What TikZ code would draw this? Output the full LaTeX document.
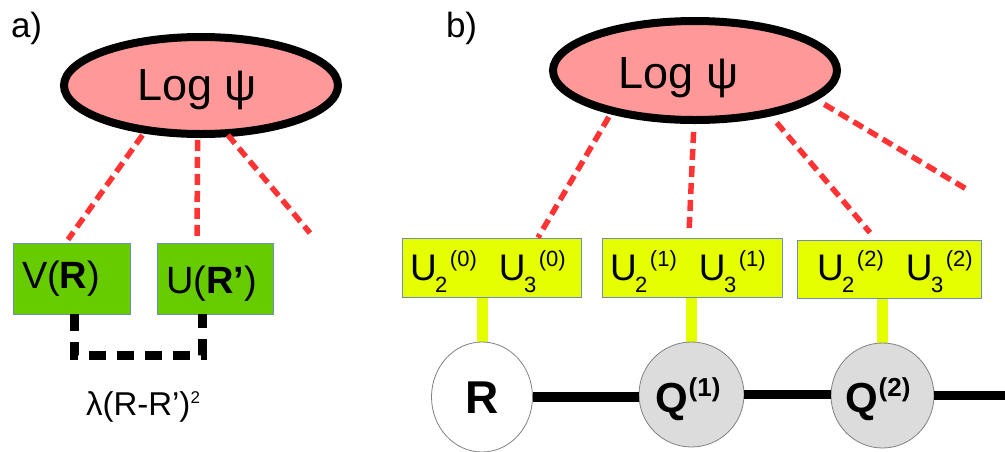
\documentclass[tikz,border=0pt]{standalone}
\usepackage{fontspec}
\setmainfont{Liberation Sans}
\usetikzlibrary{shapes.geometric,calc,backgrounds}
\definecolor{pinkfill}{RGB}{255,153,153}
\definecolor{reddash}{RGB}{255,51,51}
\definecolor{greenfill}{RGB}{102,204,0}
\definecolor{yellowfill}{RGB}{230,255,0}
\definecolor{boxborder}{RGB}{110,140,190}
\definecolor{circgray}{RGB}{220,220,220}
\definecolor{circborder}{RGB}{128,128,128}
\newcommand\Uterm[2]{U\kern-1.5pt\raisebox{-12pt}{\fontsize{22}{22}\selectfont #1}\kern2.5pt\raisebox{14pt}{\fontsize{22}{22}\selectfont(#2)}}
\begin{document}
\begin{tikzpicture}[x=1pt,y=-1pt,
  logell/.style={ellipse,draw=black,line width=8pt,fill=pinkfill,inner sep=0pt,outer sep=0pt,minimum width=274pt,minimum height=97pt},
  txt/.style={inner sep=0pt,outer sep=0pt,anchor=base},
  redline/.style={draw=reddash,line width=5.5pt,dash pattern=on 11pt off 6pt},
  greenbox/.style={draw=boxborder,line width=0.8pt,fill=greenfill,inner sep=0pt,minimum height=71pt},
  ybox/.style={draw=boxborder,line width=0.8pt,fill=yellowfill,inner sep=0pt,minimum height=59pt},
  blackdash/.style={draw=black,line width=9pt,dash pattern=on 17pt off 11pt,line join=miter},
  wcirc/.style={ellipse,draw=circborder,line width=0.8pt,fill=white,inner sep=0pt},
  gcirc/.style={ellipse,draw=circborder,line width=0.8pt,fill=circgray,inner sep=0pt},
  chainline/.style={draw=black,line width=9.5pt},
  ylink/.style={draw=yellowfill,line width=11pt},
]
\useasboundingbox (0,0) rectangle (1005,451);
% panel labels
\node[txt,anchor=base west] (labA) at (11,37) {\fontsize{35}{37}\selectfont a)};
\node[txt,anchor=base west] (labB) at (446,37) {\fontsize{35}{37}\selectfont b)};
% ---------- panel a ----------
\node[logell] (ellA) at (201,85.5) {};
\node[txt] (logA) at (197,100) {\fontsize{45}{48}\selectfont Log ψ};
\node[greenbox,minimum width=117pt] (vbox) at (71.5,278.5) {};
\node[greenbox,minimum width=116pt] (ubox) at (215,278.5) {};
\node[txt,anchor=base west] (vtxt) at (22,288) {\fontsize{38}{40}\selectfont V(\textbf{R})};
\node[txt,anchor=base west] (utxt) at (166,293) {\fontsize{38}{40}\selectfont U(\textbf{R’})};
\coordinate (a3end) at (310,233);
\draw[redline,shorten <=6.3pt] (ellA.-141.3) -- ([xshift=-3.5pt,yshift=3pt]vbox.north);
\draw[redline,shorten <=6pt] (ellA.-94.7) -- ([xshift=-18pt,yshift=5pt]ubox.north);
\draw[redline,shorten <=2.4pt] (ellA.-62.9) -- (a3end);
\draw[blackdash] ([xshift=2.5pt]vbox.south) -- ++(0,41) -| ([xshift=-13pt]ubox.south);
\node[txt] (lam) at (143,415) {\fontsize{33}{35}\selectfont λ(R-R’)\raisebox{12pt}{\fontsize{17}{17}\selectfont 2}};
% ---------- panel b ----------
\node[logell,minimum width=284pt,minimum height=99pt] (ellB) at (695,70.5) {};
\node[txt] (logB) at (678.5,88) {\fontsize{45}{48}\selectfont Log ψ};
\node[ybox,minimum width=179pt] (U0) at (491.5,267.5) {};
\node[ybox,minimum width=180pt] (U1) at (692,267.5) {};
\node[ybox,minimum width=184pt,minimum height=58pt] (U2) at (889,269) {};
\node[txt,anchor=base west] (u0t) at (410,280) {\fontsize{37}{40}\selectfont\Uterm{2}{0}\hspace{22pt}\Uterm{3}{0}};
\node[txt,anchor=base west] (u1t) at (610,280) {\fontsize{37}{40}\selectfont\Uterm{2}{1}\hspace{22pt}\Uterm{3}{1}};
\node[txt,anchor=base west] (u2t) at (817,280) {\fontsize{37}{40}\selectfont\Uterm{2}{2}\hspace{22pt}\Uterm{3}{2}};
\coordinate (b4end) at (968,190);
\draw[redline,shorten <=7.3pt] (ellB.-154) -- ([xshift=46.5pt]U0.north);
\draw[redline,shorten <=12pt] (ellB.-91.7) -- ([xshift=-3pt,yshift=5pt]U1.north);
\draw[redline,shorten <=12.9pt] (ellB.-30.9) -- ([xshift=-19pt,yshift=7pt]U2.north);
\draw[redline,shorten <=12.7pt] (ellB.-13.5) -- (b4end);
% circles
\node[wcirc,minimum width=101pt,minimum height=110pt] (R) at (482,397) {};
\node[gcirc,minimum width=105pt,minimum height=105pt] (Q1) at (691.5,394.5) {};
\node[gcirc,minimum width=103pt,minimum height=105pt] (Q2) at (882.5,395.5) {};
\begin{scope}[on background layer]
\draw[ylink] (R.north) -- (R.north |- U0.south);
\draw[ylink] (Q1.north) -- (Q1.north |- U1.south);
\draw[ylink] (Q2.north) -- (Q2.north |- U2.south);
\end{scope}
\node[txt] (Rt) at (482,413) {\fontsize{46}{48}\selectfont\bfseries R};
\node[txt,anchor=base west] (Q1t) at (655,412) {\fontsize{42}{44}\selectfont\bfseries Q\kern1pt\raisebox{15.5pt}{\fontsize{26}{26}\selectfont(1)}};
\node[txt,anchor=base west] (Q2t) at (845,412) {\fontsize{42}{44}\selectfont\bfseries Q\kern1pt\raisebox{15.5pt}{\fontsize{26}{26}\selectfont(2)}};
\coordinate (chainend) at (1006,395.5);
\draw[chainline] (R.east) -- (R.east -| Q1.west);
\draw[chainline] (Q1.east) -- (Q1.east -| Q2.west);
\draw[chainline] (Q2.east) -- (chainend);
\end{tikzpicture}
\end{document}
